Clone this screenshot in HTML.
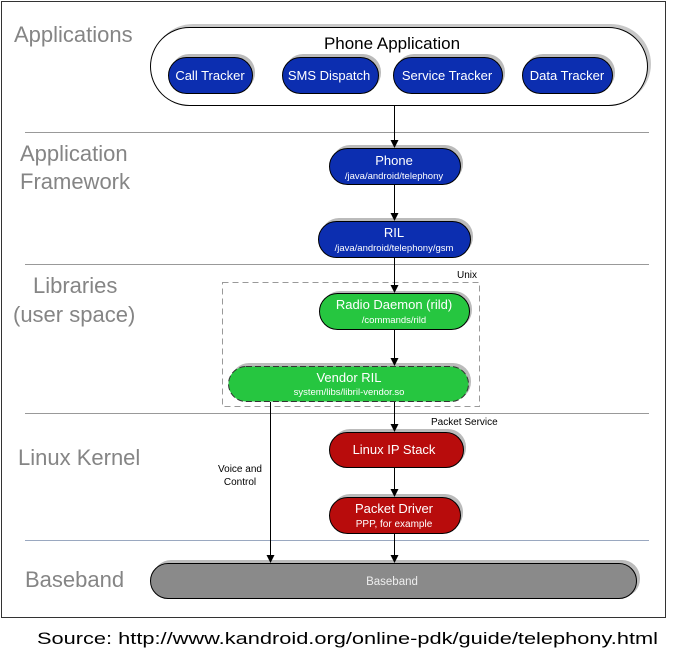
<!DOCTYPE html>
<html><head><meta charset="utf-8"><style>
html,body{margin:0;padding:0;background:#fff;}
svg{display:block;font-family:"Liberation Sans",Arial,sans-serif;}
</style></head><body>
<svg width="695" height="658" viewBox="0 0 695 658" xmlns="http://www.w3.org/2000/svg">
<defs>
<marker id="ah" markerWidth="8" markerHeight="8" refX="7" refY="4" orient="auto" markerUnits="userSpaceOnUse">
<path d="M0,0 L8,4 L0,8 Z" fill="#000"/></marker>
</defs>
<rect x="1.5" y="1.5" width="664" height="616" fill="#fff" stroke="#333" stroke-width="1"/>
<g stroke="#999" stroke-width="1">
<line x1="25" y1="132.5" x2="649" y2="132.5"/>
<line x1="25" y1="264.5" x2="649" y2="264.5"/>
<line x1="25" y1="413.5" x2="649" y2="413.5"/>
<line x1="25" y1="540.5" x2="649" y2="540.5" stroke="#9aa8c0"/>
</g>
<g fill="#858585" font-size="22">
<text x="14" y="42">Applications</text>
<text x="20" y="161">Application</text>
<text x="20" y="189">Framework</text>
<text x="33" y="293">Libraries</text>
<text x="13" y="322">(user space)</text>
<text x="18" y="465">Linux Kernel</text>
<text x="25" y="587">Baseband</text>
</g>
<!-- phone application container -->
<rect x="153" y="24" width="498" height="80" rx="40" fill="#c8c8c8"/>
<rect x="150.5" y="27.5" width="497" height="78" rx="39" fill="#fff" stroke="#000"/>
<text x="392" y="49" font-size="17" text-anchor="middle">Phone Application</text>
<g font-size="13" fill="#fff" text-anchor="middle">
<rect x="171" y="54" width="84" height="37" rx="18" fill="#bbb"/>
<rect x="168.5" y="57.5" width="84" height="36" rx="18" fill="#0c2eb0" stroke="#000"/>
<text x="210" y="80">Call Tracker</text>
<rect x="285" y="54" width="96" height="37" rx="18" fill="#bbb"/>
<rect x="282.5" y="57.5" width="96" height="36" rx="18" fill="#0c2eb0" stroke="#000"/>
<text x="329" y="80">SMS Dispatch</text>
<rect x="396" y="54" width="109" height="37" rx="18" fill="#bbb"/>
<rect x="393.5" y="57.5" width="109" height="36" rx="18" fill="#0c2eb0" stroke="#000"/>
<text x="447" y="80">Service Tracker</text>
<rect x="525" y="54" width="90" height="37" rx="18" fill="#bbb"/>
<rect x="522.5" y="57.5" width="90" height="36" rx="18" fill="#0c2eb0" stroke="#000"/>
<text x="567" y="80">Data Tracker</text>
<!-- Phone -->
<rect x="332" y="145" width="131" height="37" rx="18" fill="#bbb"/>
<rect x="329.5" y="148.5" width="131" height="36" rx="18" fill="#0c2eb0" stroke="#000"/>
<text x="394" y="165">Phone</text>
<text x="394" y="179" font-size="9.5">/java/android/telephony</text>
<!-- RIL -->
<rect x="321" y="218" width="152" height="37" rx="18" fill="#bbb"/>
<rect x="318.5" y="221.5" width="152" height="36" rx="18" fill="#0c2eb0" stroke="#000"/>
<text x="394" y="237">RIL</text>
<text x="394" y="251" font-size="9.5">/java/android/telephony/gsm</text>
</g>
<!-- Unix box -->
<rect x="222.5" y="282.5" width="257" height="124" fill="none" stroke="#999" stroke-dasharray="6,4"/>
<text x="457" y="278" font-size="10">Unix</text>
<g font-size="13" fill="#fff" text-anchor="middle">
<rect x="322" y="291" width="150" height="37" rx="18" fill="#bbb"/>
<rect x="319.5" y="293.5" width="150" height="36" rx="18" fill="#26c640" stroke="#000"/>
<text x="394" y="309">Radio Daemon (rild)</text>
<text x="394" y="323" font-size="9.5">/commands/rild</text>
<rect x="231" y="363" width="240" height="37" rx="18" fill="#bbb"/>
<rect x="228.5" y="366.5" width="240" height="35" rx="17.5" fill="#26c640" stroke="#333" stroke-dasharray="6,3"/>
<text x="349" y="382">Vendor RIL</text>
<text x="349" y="395" font-size="9.5">system/libs/libril-vendor.so</text>
<!-- Linux IP stack -->
<rect x="332" y="429" width="134" height="37" rx="18" fill="#bbb"/>
<rect x="329.5" y="432.5" width="134" height="35" rx="17.5" fill="#b80c0c" stroke="#000"/>
<text x="394" y="454">Linux IP Stack</text>
<rect x="332" y="494" width="131" height="37" rx="18" fill="#bbb"/>
<rect x="329.5" y="497.5" width="131" height="36" rx="18" fill="#b80c0c" stroke="#000"/>
<text x="394" y="513">Packet Driver</text>
<text x="394" y="527" font-size="10">PPP, for example</text>
<!-- Baseband -->
<rect x="153" y="560" width="487" height="37" rx="18" fill="#bbb"/>
<rect x="150.5" y="563.5" width="486" height="35" rx="17.5" fill="#8a8a8a" stroke="#000"/>
<text x="392" y="585" font-size="11.5" fill="#eee">Baseband</text>
</g>
<text x="431" y="425" font-size="10">Packet Service</text>
<text x="240" y="472" font-size="10" text-anchor="middle">Voice and</text>
<text x="240" y="485" font-size="10" text-anchor="middle">Control</text>
<!-- arrows -->
<g stroke="#000" stroke-width="1" marker-end="url(#ah)">
<line x1="394.5" y1="106" x2="394.5" y2="147"/>
<line x1="394.5" y1="185" x2="394.5" y2="220"/>
<line x1="394.5" y1="258" x2="394.5" y2="292"/>
<line x1="394.5" y1="330" x2="394.5" y2="365"/>
<line x1="394.5" y1="402" x2="394.5" y2="431"/>
<line x1="394.5" y1="468" x2="394.5" y2="496"/>
<line x1="394.5" y1="534" x2="394.5" y2="562"/>
<line x1="270.5" y1="402" x2="270.5" y2="562"/>
</g>
<text x="37" y="644" font-size="17" textLength="621" lengthAdjust="spacingAndGlyphs">Source: http://www.kandroid.org/online-pdk/guide/telephony.html</text>
</svg>
</body></html>
